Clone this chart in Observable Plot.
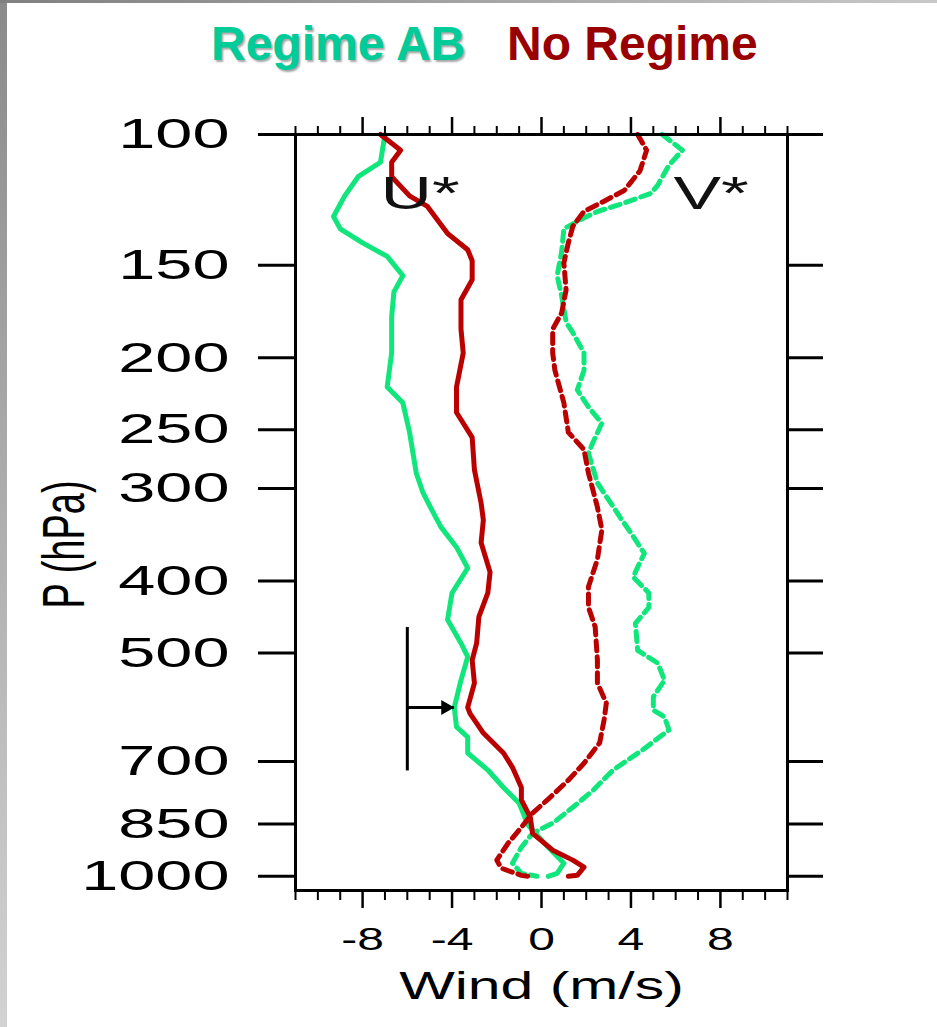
<!DOCTYPE html>
<html><head><meta charset="utf-8">
<script src="https://cdn.jsdelivr.net/npm/d3@7"></script>
<script src="https://cdn.jsdelivr.net/npm/@observablehq/plot@0.6"></script>
<style>
body{margin:0;background:#fff;width:937px;height:1027px;overflow:hidden;position:relative;font-family:"Liberation Sans",Arial,sans-serif;}
#lbar{position:absolute;left:0;top:0;width:7px;height:1027px;background:linear-gradient(#8a8a8a,#d2d2d2);}
#tbar{position:absolute;left:0;top:0;width:937px;height:3px;background:linear-gradient(90deg,#808080,#c8c8c8);}
.t{position:absolute;top:20px;font-size:48px;font-weight:bold;line-height:48px;white-space:nowrap;}
#chart{position:absolute;left:0;top:95px;}
</style></head>
<body>
<div id="lbar"></div><div id="tbar"></div>
<div class="t" style="left:211px;color:#00cc99;text-shadow:2px 2px 2px rgba(0,0,0,0.35)">Regime AB</div>
<div class="t" style="left:507px;color:#990000">No Regime</div>
<div id="chart"></div>
<script>
// ---- data (pressure in hPa, wind in m/s) ----
const uAB_p = [100,109,114,121,129,134,140,146,155,163,176,183,197,219,230,252,286,304,321,338,360,384,415,451,485,506,544,592,629,649,682,719,759,797,853,914,960,991,1000];
const uAB   = [-7.0,-7.2,-8.2,-8.8,-9.3,-9.0,-8.0,-6.9,-6.2,-6.6,-6.7,-6.7,-6.7,-6.9,-6.2,-5.9,-5.6,-5.3,-4.9,-4.5,-3.8,-3.3,-4.0,-4.2,-3.6,-3.3,-3.6,-3.9,-3.8,-3.3,-3.3,-2.4,-1.7,-1.0,-0.6,0.3,1.0,0.7,0.3];

const uNR_p = [100,105,109,114,121,125,131,136,143,148,157,167,176,183,197,219,237,256,283,314,331,355,389,415,447,485,511,549,592,603,641,682,713,759,789,833,875,922,951,972,997,1000];
const uNR   = [-7.2,-6.3,-6.7,-6.7,-5.9,-5.1,-4.6,-4.2,-3.3,-3.1,-3.1,-3.6,-3.6,-3.6,-3.5,-3.8,-3.8,-3.1,-3.0,-2.7,-2.6,-2.7,-2.3,-2.4,-2.8,-2.9,-3.1,-3.0,-3.3,-3.2,-2.6,-1.7,-1.3,-0.9,-0.9,-0.5,-0.4,0.5,1.4,1.9,1.6,1.2];

const vNR_p = [100,105,112,119,123,127,133,140,149,162,174,183,197,208,230,252,266,286,318,341,374,407,434,461,511,549,584,615,661,704,742,782,822,859,903,951,975,997,1000];
const vNR   = [4.3,4.7,4.4,3.7,2.8,1.9,1.4,1.2,1.0,1.1,0.9,0.5,0.5,0.6,1.0,1.2,1.9,2.1,2.5,2.7,2.5,2.1,2.1,2.4,2.5,2.5,2.9,2.8,2.6,1.9,1.2,0.4,-0.4,-0.9,-1.5,-2.0,-1.8,-0.9,-0.6];

const vAB_p = [100,105,110,117,120,124,127,130,134,144,155,165,179,185,197,208,221,233,245,260,269,295,314,331,341,367,383,395,415,434,456,496,516,544,573,597,610,635,676,719,766,807,848,875,914,960,991,1000];
const vAB   = [5.4,6.3,5.7,5.2,4.9,3.6,2.5,1.8,1.0,0.9,0.7,0.9,1.1,1.4,1.9,1.9,1.6,2.1,2.7,2.3,2.1,2.5,3.1,3.6,3.9,4.6,4.3,4.1,4.8,4.8,4.2,4.3,5.2,5.5,5.0,5.0,5.5,5.7,4.5,3.2,2.3,1.4,0.5,-0.4,-0.9,-1.3,-0.9,-0.2];

const yTicks = [100,150,200,250,300,400,500,700,850,1000];
const xMajor = [-8,-4,0,4,8];
const xMinor = [-11,-10,-9,-7,-6,-5,-3,-2,-1,1,2,3,5,6,7,9,10,11];

const curveLabels = ["U*","V*"];
const curveLabelX = [-7.2, 5.9];
const curveLabelP = [126, 126];

const markerX = [-6];
const markerP = [462, 721];
const arrowP = [592];
const arrowX = [-6, -3.9];

const GREEN = "#10e67c", RED = "#bb0000";
const rows = (ps, vs) => ps.map((p, i) => ({p, v: vs[i]}));

const SX = 1.55;
const plot = Plot.plot({
  width: 937, height: 932,
  marginLeft: 295, marginRight: 150, marginTop: 39, marginBottom: 137,
  style: {fontFamily: "Liberation Sans, Arial, sans-serif", background: "transparent", overflow: "visible"},
  x: {domain: [-11, 11], label: null},
  y: {type: "log", domain: [100, 1045], reverse: true, label: null},
  marks: [
    Plot.line(rows(vAB_p, vAB), {x: "v", y: "p", stroke: GREEN, strokeWidth: 5, strokeDasharray: "10,6", strokeLinejoin: "round"}),
    Plot.line(rows(uAB_p, uAB), {x: "v", y: "p", stroke: GREEN, strokeWidth: 5, strokeLinejoin: "round", strokeLinecap: "round"}),
    Plot.line(rows(vNR_p, vNR), {x: "v", y: "p", stroke: RED, strokeWidth: 5, strokeDasharray: "10,6", strokeLinejoin: "round"}),
    Plot.line(rows(uNR_p, uNR), {x: "v", y: "p", stroke: RED, strokeWidth: 5, strokeLinejoin: "round", strokeLinecap: "round"}),
    Plot.ruleX(markerX, {x: d => d, y1: markerP[0], y2: markerP[1], stroke: "black", strokeWidth: 3}),
    Plot.ruleY(arrowP, {y: d => d, x1: arrowX[0], x2: arrowX[1], stroke: "black", strokeWidth: 3}),
    Plot.dot(arrowP, {x: arrowX[1], y: d => d, symbol: "triangle", r: 5.6, fill: "black", stroke: "none", rotate: 90, dx: -8.7}),
    Plot.text(curveLabels, {text: d => d, x: (d, i) => curveLabelX[i], y: (d, i) => curveLabelP[i], textAnchor: "start", lineAnchor: "bottom", fontSize: 46, fill: "#111"}),
    Plot.frame({stroke: "black", strokeWidth: 3}),
    Plot.axisY(yTicks, {anchor: "left", tickSize: 37, tickPadding: 29, fontSize: 43, tickFormat: d => String(d), strokeWidth: 3, label: null}),
    Plot.axisY(yTicks, {anchor: "right", tickSize: 35, tickFormat: () => "", strokeWidth: 3, label: null}),
    Plot.axisX(xMajor, {anchor: "top", tickSize: 18, tickFormat: () => "", strokeWidth: 2.5, label: null}),
    Plot.axisX(xMinor, {anchor: "top", tickSize: 9, tickFormat: () => "", strokeWidth: 2, label: null}),
    Plot.axisX(xMajor, {anchor: "bottom", tickSize: 18, tickPadding: 19, fontSize: 31, tickFormat: d => String(d), strokeWidth: 2.5, label: null}),
    Plot.axisX(xMinor, {anchor: "bottom", tickSize: 10, tickFormat: () => "", strokeWidth: 2, label: null}),
    Plot.text(["Wind (m/s)"], {text: d => d, frameAnchor: "bottom", dy: 108, lineAnchor: "bottom", textAnchor: "middle", fontSize: 38}),
    Plot.text(["P (hPa)"], {text: d => d, frameAnchor: "left", rotate: -90, dx: -212, dy: 32, lineAnchor: "bottom", textAnchor: "middle", fontSize: 38})
  ]
});

// horizontally stretched lettering, as in the reference
plot.querySelectorAll("text").forEach(el => {
  const tr = el.getAttribute("transform");
  if (tr && /^translate\([^)]*\)/.test(tr)) {
    el.setAttribute("transform", tr.replace(/^(translate\([^)]*\))/, `$1 scale(${SX},1)`));
  } else {
    const x = +(el.getAttribute("x") || 0), y = +(el.getAttribute("y") || 0);
    el.setAttribute("transform", `translate(${x},${y}) scale(${SX},1) translate(${-x},${-y})` + (tr ? " " + tr : ""));
  }
});
document.getElementById("chart").appendChild(plot);
</script>
</body></html>
